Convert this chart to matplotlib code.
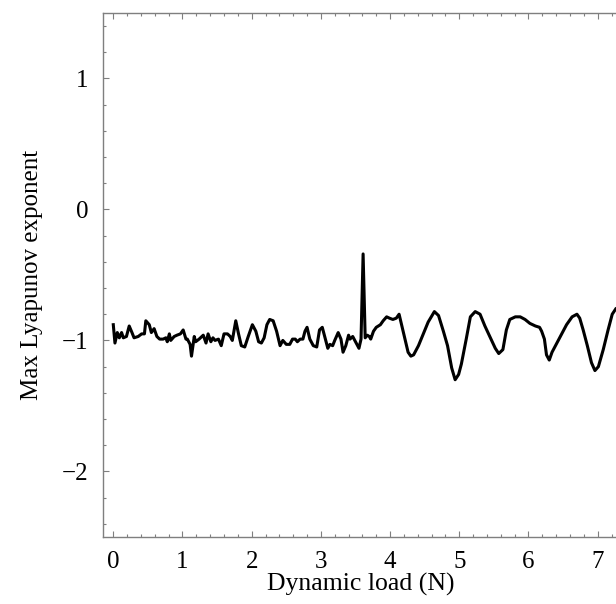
import matplotlib
matplotlib.use("Agg")
import matplotlib.pyplot as plt
from matplotlib.ticker import MultipleLocator

plt.rcParams['font.family'] = ['Liberation Serif', 'DejaVu Serif']

load = [0.00, 0.024, 0.058, 0.087, 0.12, 0.145, 0.19, 0.23, 0.27, 0.30, 0.36, 0.41, 0.45, 0.47,
        0.52, 0.55, 0.59, 0.63, 0.67, 0.72, 0.76, 0.78, 0.81, 0.83, 0.88, 0.92, 0.97, 1.01,
        1.05, 1.07, 1.11, 1.13, 1.17, 1.19, 1.24, 1.28, 1.30, 1.34, 1.37, 1.41, 1.44, 1.47,
        1.52, 1.56, 1.60, 1.65, 1.69, 1.72, 1.77, 1.81, 1.85, 1.90, 1.95, 2.01, 2.06, 2.10,
        2.14, 2.18, 2.22, 2.26, 2.31, 2.36, 2.41, 2.45, 2.50, 2.55, 2.59, 2.63, 2.66, 2.70,
        2.74, 2.77, 2.80, 2.84, 2.89, 2.94, 2.98, 3.02, 3.06, 3.10, 3.13, 3.17, 3.20, 3.25,
        3.29, 3.32, 3.36, 3.40, 3.42, 3.46, 3.48, 3.52, 3.55, 3.58, 3.61, 3.64, 3.67, 3.70,
        3.72, 3.76, 3.80, 3.86, 3.90, 3.95, 3.99, 4.04, 4.09, 4.13, 4.17, 4.22, 4.26, 4.30,
        4.34, 4.41, 4.48, 4.55, 4.64, 4.70, 4.77, 4.83, 4.89, 4.94, 4.99, 5.03, 5.10, 5.16,
        5.23, 5.30, 5.37, 5.44, 5.52, 5.57, 5.63, 5.68, 5.73, 5.81, 5.88, 5.95, 6.02, 6.10,
        6.16, 6.19, 6.23, 6.26, 6.30, 6.34, 6.40, 6.48, 6.55, 6.63, 6.70, 6.74, 6.79, 6.85,
        6.91, 6.96, 7.01, 7.08, 7.15, 7.21, 7.26]
lyap = [-0.88, -1.02, -0.94, -0.98, -0.94, -0.98, -0.97, -0.89, -0.94, -0.98, -0.97, -0.95, -0.95, -0.85,
        -0.88, -0.94, -0.91, -0.97, -0.99, -0.99, -0.98, -1.01, -0.95, -1.00, -0.97, -0.96, -0.95, -0.92,
        -0.99, -0.99, -1.03, -1.12, -0.97, -1.01, -0.99, -0.97, -0.96, -1.02, -0.95, -1.01, -0.98, -1.00,
        -0.99, -1.04, -0.95, -0.95, -0.97, -1.00, -0.85, -0.95, -1.04, -1.05, -0.97, -0.88, -0.93, -1.01,
        -1.02, -0.98, -0.88, -0.84, -0.85, -0.93, -1.04, -1.00, -1.03, -1.03, -0.99, -0.99, -1.01, -0.99,
        -0.99, -0.93, -0.90, -0.99, -1.04, -1.05, -0.92, -0.90, -0.98, -1.06, -1.03, -1.04, -1.00, -0.94,
        -0.99, -1.09, -1.04, -0.96, -0.99, -0.97, -0.99, -1.03, -1.06, -0.99, -0.34, -0.98, -0.96, -0.97,
        -0.99, -0.93, -0.90, -0.88, -0.85, -0.82, -0.83, -0.84, -0.83, -0.80, -0.89, -1.00, -1.09, -1.12,
        -1.11, -1.04, -0.95, -0.86, -0.78, -0.81, -0.93, -1.04, -1.21, -1.30, -1.26, -1.18, -0.99, -0.82,
        -0.78, -0.80, -0.89, -0.97, -1.06, -1.10, -1.07, -0.92, -0.84, -0.82, -0.82, -0.84, -0.87, -0.89,
        -0.90, -0.93, -0.99, -1.11, -1.15, -1.09, -1.03, -0.95, -0.88, -0.82, -0.80, -0.83, -0.92, -1.04,
        -1.17, -1.23, -1.20, -1.07, -0.92, -0.80, -0.76]

xticks = [0, 1, 2, 3, 4, 5, 6, 7]
yticks = [-2, -1, 0, 1]

W, H = 616, 604
fig = plt.figure(figsize=(W / 100, H / 100), dpi=100)
left_px, right_px, top_px, bottom_px = 102.7, 619.5, 12.8, 537.0
ax = fig.add_axes([left_px / W, 1 - bottom_px / H, (right_px - left_px) / W, (bottom_px - top_px) / H])

ax.plot(load, lyap, color='black', lw=2.2, solid_joinstyle='round')

ax.set_xlim(-0.153, 7.315)
ax.set_ylim(-2.5, 1.5)
ax.set_xticks(xticks)
ax.set_yticks(yticks)
ax.set_yticklabels(['\u2212%d' % abs(v) if v < 0 else str(v) for v in yticks])
ax.xaxis.set_minor_locator(MultipleLocator(0.2))
ax.yaxis.set_minor_locator(MultipleLocator(0.2))

gray = '#7f7f7f'
for s in ax.spines.values():
    s.set_color(gray)
    s.set_linewidth(1.0)
ax.tick_params(which='both', direction='in', top=True, right=False, color=gray, width=0.8,
               labelsize=18, labelcolor='black')
ax.tick_params(which='major', length=4.5)
ax.tick_params(which='minor', length=2.2)
ax.tick_params(axis='x', which='major', pad=10)
ax.tick_params(axis='y', which='major', pad=10)

ax.set_xlabel('Dynamic load (N)', fontsize=18.5, labelpad=0)
ax.set_ylabel('Max Lyapunov exponent', fontsize=18, labelpad=14)

fig.savefig('out.png', dpi=100)
